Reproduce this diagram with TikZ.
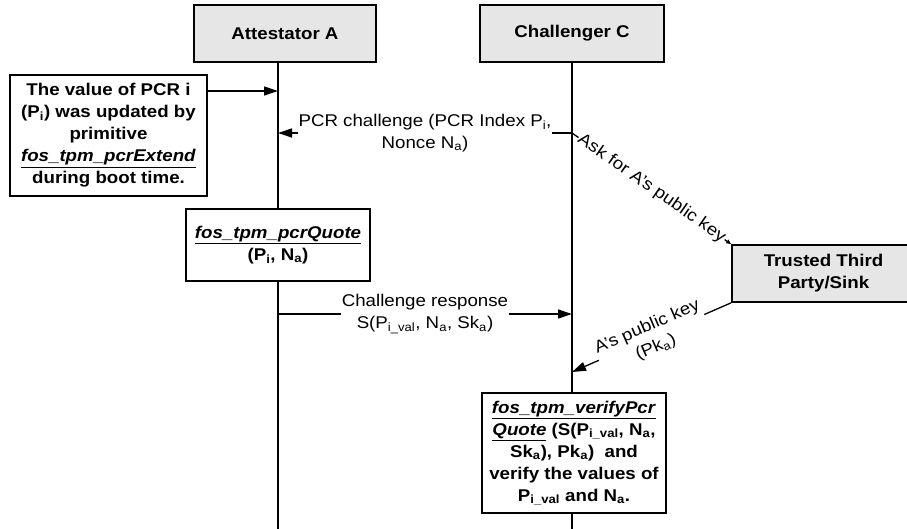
\documentclass[tikz,border=0pt]{standalone}
\usepackage{fontspec}
\setmainfont{Liberation Sans}[FakeStretch=1.1]
\usetikzlibrary{arrows.meta}
\definecolor{boxgray}{RGB}{230,230,230}
\begin{document}
\begin{tikzpicture}[x=1pt,y=-1pt,
  every node/.style={font=\fontsize{17}{22}\selectfont, inner sep=0pt},
  actor/.style={draw, line width=1.6pt, fill=boxgray, minimum width=182pt, minimum height=57pt, font=\fontsize{17}{22}\selectfont\bfseries, align=center},
  procbox/.style={draw, line width=1.6pt, fill=white, align=center, font=\fontsize{17}{22}\selectfont\bfseries},
  lifeline/.style={line width=1.5pt},
  msg/.style={line width=1.3pt, -{Triangle[length=14pt,width=9pt]}},
  smallmsg/.style={line width=1.3pt, -{Triangle[length=5pt,width=4pt]}},
  lbl/.style={fill=white, align=center, inner sep=1pt}]
\useasboundingbox (0,0) rectangle (907,529);

% lifelines
\coordinate (aTop) at (278,62);
\coordinate (aEnd) at (278,529);
\coordinate (cTop) at (572,62);
\coordinate (cEnd) at (572,529);
\draw[lifeline] (aTop) -- (aEnd);
\draw[lifeline] (cTop) -- (cEnd);

% actors
\node[actor] (A) at (285,33.5) {Attestator A};
\node[actor, minimum width=184pt] (C) at (572,33.5) {Challenger C};
\node[actor, minimum width=183pt] (T) at (823.5,273.5) {Trusted Third\\Party/Sink};

% process boxes
\node[procbox, minimum width=197pt, minimum height=121pt] (L) at (108.5,135.5)
  {The value of PCR i\\(P\textsubscript{i}) was updated by\\primitive\\\underline{\textit{fos\_tpm\_pcrExtend}}\\during boot time.};
\node[procbox, minimum width=184pt, minimum height=72pt] (Q) at (278,245)
  {\underline{\textit{fos\_tpm\_pcrQuote}}\\(P\textsubscript{i}, N\textsubscript{a})};
\node[procbox, minimum width=184pt, minimum height=120pt] (V) at (574,453)
  {\underline{\textit{fos\_tpm\_verifyPcr}}\\\underline{\textit{Quote}} (S(P\textsubscript{i\_val}, N\textsubscript{a},\\Sk\textsubscript{a}), Pk\textsubscript{a})~ and\\verify the values of\\P\textsubscript{i\_val} and N\textsubscript{a}.};

% messages
\coordinate (a1) at (278,91);
\draw[msg] (L.east |- a1) -- (a1);

\coordinate (c2) at (572,133);
\coordinate (a2) at (278,133);
\draw[msg] (c2) -- node[lbl] {PCR challenge (PCR Index P\textsubscript{i},\\Nonce N\textsubscript{a})} (a2);

\draw[smallmsg] (c2) -- node[lbl, sloped] {Ask for A’s public key} (T.north west);

\coordinate (a3) at (278,314);
\coordinate (c3) at (572,314);
\draw[msg] (a3) -- node[lbl] {Challenge response\\S(P\textsubscript{i\_val}, N\textsubscript{a}, Sk\textsubscript{a})} (c3);

\coordinate (c4) at (572,372);
\draw[msg] (T.south west) -- node[lbl, sloped] {A’s public key\\(Pk\textsubscript{a})} (c4);
\end{tikzpicture}
\end{document}
